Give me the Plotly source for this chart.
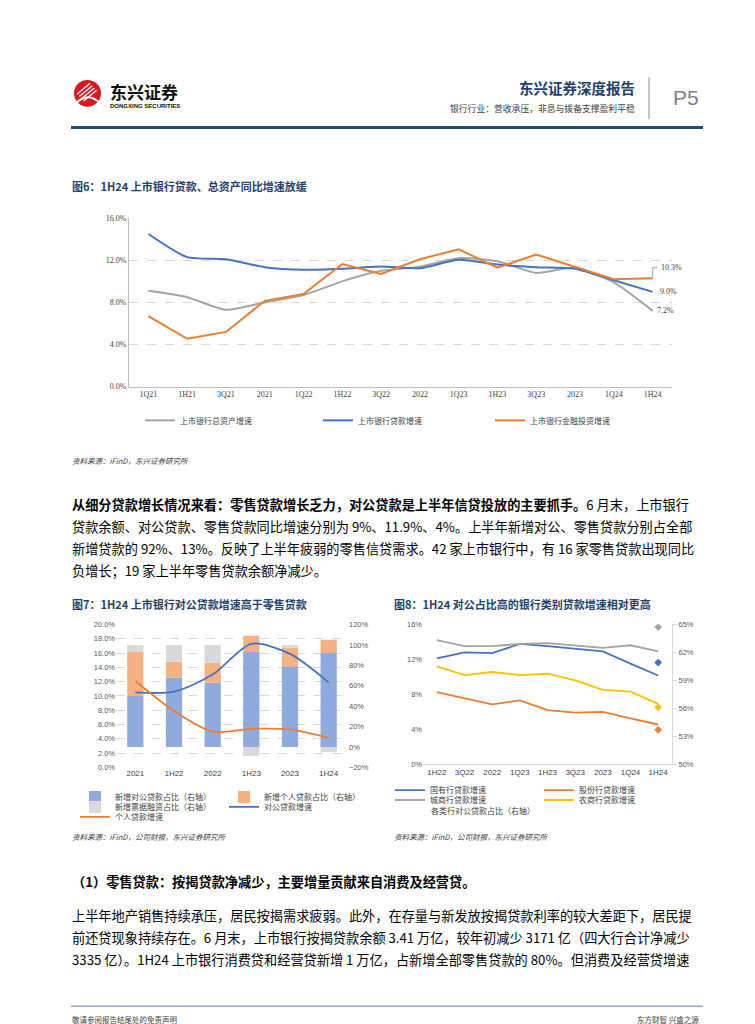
import plotly.graph_objects as go

W, H = 755, 1024
CJK = "Noto Sans CJK SC"


def px(x):
    return x / W


def py(y):
    return 1 - y / H


# ---------------- data ----------------
# Fig 6
c1_cats = ["1Q21", "1H21", "3Q21", "2021", "1Q22", "1H22", "3Q22", "2022",
           "1Q23", "1H23", "3Q23", "2023", "1Q24", "1H24"]
c1_assets = [9.1, 8.5, 7.3, 8.0, 8.7, 10.0, 11.0, 11.4, 12.2, 11.9, 10.8, 11.3, 9.9, 7.2]
c1_loans = [14.5, 12.3, 12.1, 11.35, 11.1, 11.2, 11.4, 11.25, 12.05, 11.6, 11.35, 11.2, 10.1, 9.0]
c1_invest = [6.7, 4.55, 5.2, 8.15, 8.8, 11.65, 10.7, 12.1, 13.05, 11.3, 12.55, 11.35, 10.2, 10.3]
c1_names = ["上市银行总资产增速", "上市银行贷款增速", "上市银行金融投资增速"]
c1_end_labels = ["7.2%", "9.0%", "10.3%"]

# Fig 7
c2_cats = ["2021", "1H22", "2022", "1H23", "2023", "1H24"]
c2_corp_share = [50, 68, 63, 93, 79, 92]
c2_retail_share = [43, 15.5, 19.5, 16, 18.5, 13]
c2_bill_share = [7, 16.5, 17.5, -9, 2.5, -5]
c2_corp_growth = [10.5, 10.6, 13.0, 17.3, 15.9, 11.9]
c2_retail_growth = [12.1, 7.9, 5.0, 5.4, 5.3, 4.1]
c2_names = ["新增对公贷款占比（右轴）", "新增个人贷款占比（右轴）", "新增票据融资占比（右轴）",
            "对公贷款增速", "个人贷款增速"]

# Fig 8
c3_cats = ["1H22", "3Q22", "2022", "1Q23", "1H23", "3Q23", "2023", "1Q24", "1H24"]
c3_soe = [12.1, 12.8, 12.7, 13.75, 13.5, 13.2, 12.9, 11.5, 10.15]
c3_jsb = [8.25, 7.55, 6.85, 7.3, 6.2, 5.9, 6.0, 5.25, 4.55]
c3_city = [14.2, 13.5, 13.5, 13.75, 13.85, 13.6, 13.3, 13.6, 12.9]
c3_rural = [11.2, 10.2, 10.55, 10.2, 10.35, 9.6, 8.5, 8.3, 6.9]
c3_corp_ratio_1h24 = [60.9, 53.7, 64.7, 56.1]  # 国有, 股份, 城商, 农商
c3_names = ["国有行贷款增速", "股份行贷款增速", "城商行贷款增速", "农商行贷款增速"]

BLUE, ORANGE, GRAY, YELLOW = "#4472C4", "#ED7D31", "#A5A5A5", "#FFC000"
NAVY = "#1F3F6E"

fig = go.Figure()


def leg_cfg(text_x, y):
    return dict(x=px(text_x - 40), y=py(y), xanchor="left", yanchor="middle",
                orientation="h", bgcolor="rgba(0,0,0,0)", borderwidth=0,
                itemwidth=30, font=dict(family=CJK, size=8, color="#404040"))


legends = {}

# ---------------- Fig 6 traces ----------------
c1_series = [(c1_assets, GRAY, "spline"), (c1_loans, BLUE, "spline"), (c1_invest, ORANGE, "linear")]
c1_leg_pos = [(172, 412), (350, 412), (522, 412)]
for i, (vals, col, shp) in enumerate(c1_series):
    lname = "legend" if i == 0 else f"legend{i + 1}"
    legends[lname] = leg_cfg(*c1_leg_pos[i])
    fig.add_trace(go.Scatter(x=c1_cats, y=vals, mode="lines", name=c1_names[i],
                             line=dict(color=col, width=2, shape=shp, smoothing=0.6),
                             xaxis="x", yaxis="y", legend=lname))

# ---------------- Fig 7 traces ----------------
c2_bar_cols = ["#8FAADC", "#F4B183", "#D9D9D9"]
c2_bar_vals = [c2_corp_share, c2_retail_share, c2_bill_share]
c2_leg_pos = [(107, 792), (256, 792), (107, 802), (256, 802), (107, 812)]
for i in range(3):
    lname = f"legend{4 + i}"
    legends[lname] = leg_cfg(*c2_leg_pos[i])
    fig.add_trace(go.Bar(x=c2_cats, y=c2_bar_vals[i], name=c2_names[i],
                         marker=dict(color=c2_bar_cols[i], line=dict(width=0)),
                         xaxis="x2", yaxis="y2", legend=lname))
for j, (vals, col) in enumerate([(c2_corp_growth, BLUE), (c2_retail_growth, ORANGE)]):
    lname = f"legend{7 + j}"
    legends[lname] = leg_cfg(*c2_leg_pos[3 + j])
    fig.add_trace(go.Scatter(x=c2_cats, y=vals, mode="lines", name=c2_names[3 + j],
                             line=dict(color=col, width=1.8, shape="spline", smoothing=0.8),
                             xaxis="x2", yaxis="y3", legend=lname))

# ---------------- Fig 8 traces ----------------
c3_vals = [c3_soe, c3_jsb, c3_city, c3_rural]
c3_cols = [BLUE, ORANGE, GRAY, YELLOW]
c3_leg_pos = [(422, 785), (571, 785), (422, 795), (571, 795)]
for i in range(4):
    lname = f"legend{9 + i}"
    legends[lname] = leg_cfg(*c3_leg_pos[i])
    fig.add_trace(go.Scatter(x=c3_cats, y=c3_vals[i], mode="lines", name=c3_names[i],
                             line=dict(color=c3_cols[i], width=1.8),
                             xaxis="x3", yaxis="y4", legend=lname))
fig.add_trace(go.Scatter(x=[c3_cats[-1]] * 4, y=c3_corp_ratio_1h24, mode="markers",
                         marker=dict(color=c3_cols, symbol="diamond", size=6),
                         showlegend=False, xaxis="x3", yaxis="y5"))

# ---------------- annotations ----------------
ann = []


def txt(x, y, s, size=8, color="#000000", bold=False, xanchor="left", family=CJK, italic=False):
    if bold:
        s = f"<b>{s}</b>"
    f = dict(family=family, size=size, color=color)
    if italic:
        f["style"] = "italic"
    ann.append(dict(xref="paper", yref="paper", x=px(x), y=py(y), text=s, showarrow=False,
                    xanchor=xanchor, yanchor="middle", font=f, align="left", borderpad=0))


# header
txt(101, 80, "东兴证券", size=17, bold=True, color="#111111")
txt(101, 95, "DONGXING SECURITIES", size=6, bold=True, color="#111111", family="Liberation Sans")
txt(628, 76, "东兴证券深度报告", size=14.5, bold=True, color=NAVY, xanchor="right")
txt(628, 97, "银行行业：营收承压，非息与拨备支撑盈利平稳", size=8.8, color="#404040", xanchor="right")
txt(664, 86, "P5", size=21, color="#7F7F7F", family="Liberation Sans")

# fig 6
txt(63, 176, "图6：1H24 上市银行贷款、总资产同比增速放缓", size=11, bold=True, color=NAVY)
for lab, val, xs, ys in zip(c1_end_labels, [c1_assets[-1], c1_loans[-1], c1_invest[-1]],
                            [2, 5, 6], [0, 0, 10.5]):
    ann.append(dict(xref="x", yref="y", x=c1_cats[-1], y=val, text=lab, showarrow=False,
                    xanchor="left", yanchor="middle", xshift=xs, yshift=ys,
                    font=dict(family="Liberation Serif", size=8, color="#404040")))
txt(63, 452, "资料来源：iFinD，东兴证券研究所", size=7.5, color="#404040", italic=True)

# paragraph 1
p1 = [
    "<b>从细分贷款增长情况来看：零售贷款增长乏力，对公贷款是上半年信贷投放的主要抓手。</b>6 月末，上市银行",
    "贷款余额、对公贷款、零售贷款同比增速分别为 9%、11.9%、4%。上半年新增对公、零售贷款分别占全部",
    "新增贷款的 92%、13%。反映了上半年疲弱的零售信贷需求。42 家上市银行中，有 16 家零售贷款出现同比",
    "负增长；19 家上半年零售贷款余额净减少。",
]
for k, line in enumerate(p1):
    txt(63, 497 + 22 * k, line, size=13.2)

# fig 7 / fig 8 titles
txt(63, 597, "图7：1H24 上市银行对公贷款增速高于零售贷款", size=11, bold=True, color=NAVY)
txt(385, 597, "图8：1H24 对公占比高的银行类别贷款增速相对更高", size=11, bold=True, color=NAVY)
txt(422, 806, "各类行对公贷款占比（右轴）", size=8, color="#404040")
txt(63, 832, "资料来源：iFinD，公司财报，东兴证券研究所", size=7.5, color="#404040", italic=True)
txt(385, 832, "资料来源：iFinD，公司财报，东兴证券研究所", size=7.5, color="#404040", italic=True)

# section 1
txt(63, 877, "（1）零售贷款：按揭贷款净减少，主要增量贡献来自消费及经营贷。", size=13.2, bold=True)
p2 = [
    "上半年地产销售持续承压，居民按揭需求疲弱。此外，在存量与新发放按揭贷款利率的较大差距下，居民提",
    "前还贷现象持续存在。6 月末，上市银行按揭贷款余额 3.41 万亿，较年初减少 3171 亿（四大行合计净减少",
    "3335 亿）。1H24 上市银行消费贷和经营贷新增 1 万亿，占新增全部零售贷款的 80%。但消费及经营贷增速",
]
for k, line in enumerate(p2):
    txt(63, 912 + 22 * k, line, size=13.2)

# footer
txt(63, 1016, "敬请参阅报告结尾处的免责声明", size=7.5, color="#404040")
txt(692, 1016, "东方财智 兴盛之源", size=7.5, color="#404040", xanchor="right")

# ---------------- shapes ----------------
shapes = []


def pline(x0, y0, x1, y1, color, width):
    shapes.append(dict(type="line", xref="paper", yref="paper", x0=px(x0), y0=py(y0),
                       x1=px(x1), y1=py(y1), line=dict(color=color, width=width)))


# logo
shapes.append(dict(type="circle", xref="paper", yref="paper", x0=px(66), x1=px(93),
                   y0=py(95.5), y1=py(68.5), fillcolor="#D7191F", line=dict(width=0)))
for d in range(4):
    pline(69 + d * 2.2, 83 + d * 2.3, 82 + d * 2.2, 72 + d * 2.3, "white", 1.3)
shapes.append(dict(type="path", xref="paper", yref="paper",
                   path=f"M {px(68)},{py(92)} Q {px(80)},{py(80)} {px(92)},{py(92)}",
                   line=dict(color="white", width=2)))
pline(641, 66, 641, 108, "#8C8C8C", 1)
pline(63, 116.5, 695, 116.5, "#1F4E79", 3)
pline(63, 1003, 695, 1003, "#8EA9C8", 1.5)

# leader line for 10.3% label
shapes.append(dict(type="line", xref="x", yref="y", x0=13, x1=13, y0=c1_invest[-1], y1=11.3,
                   line=dict(color="#A6A6A6", width=1)))
shapes.append(dict(type="line", xref="x", yref="y", x0=13, x1=13.12, y0=11.3, y1=11.3,
                   line=dict(color="#A6A6A6", width=1)))

tickfont_s = dict(family="Liberation Serif", size=8, color="#404040")
tickfont = dict(family="Liberation Sans", size=7.5, color="#595959")

layout = dict(
    width=W, height=H, margin=dict(l=0, r=0, t=0, b=0),
    paper_bgcolor="white", plot_bgcolor="white",
    barmode="relative", bargap=0.58,
    annotations=ann, shapes=shapes,
    # fig 6
    xaxis=dict(domain=[px(121), px(664)], anchor="y", type="category",
               range=[-0.5, len(c1_cats) - 0.5], showline=True, linecolor="#BFBFBF",
               linewidth=1, showgrid=False, ticks="", tickfont=tickfont_s),
    yaxis=dict(domain=[py(378), py(208)], anchor="x", range=[0, 16], dtick=4,
               tickformat=".1f", ticksuffix="%", showgrid=True, gridcolor="#D9D9D9",
               griddash="dash", zeroline=False, showline=True, linecolor="#BFBFBF",
               linewidth=1, ticks="", tickfont=tickfont_s),
    # fig 7
    xaxis2=dict(domain=[px(108), px(340)], anchor="y2", type="category",
                range=[-0.5, len(c2_cats) - 0.5], showline=False, showgrid=False,
                ticks="", tickfont=dict(family="Liberation Sans", size=8, color="#404040")),
    yaxis2=dict(domain=[py(762), py(618)], anchor="x2", side="right", range=[-20, 120],
                dtick=20, tick0=0, ticksuffix="%", showgrid=False, zeroline=False, showline=False,
                tickfont=tickfont),
    yaxis3=dict(overlaying="y2", anchor="x2", side="left", range=[0, 20], dtick=2, tick0=0,
                tickformat=".1f", ticksuffix="%", showgrid=True, gridcolor="#D9D9D9",
                griddash="dash", zeroline=False, showline=False, tickfont=tickfont),
    # fig 8
    xaxis3=dict(domain=[px(415), px(664)], anchor="y4", type="category",
                range=[-0.5, len(c3_cats) - 0.5], showline=True, linecolor="#D9D9D9",
                showgrid=False, ticks="", tickfont=dict(family="Liberation Sans", size=8, color="#404040")),
    yaxis4=dict(domain=[py(759), py(617.7)], anchor="x3", side="left", range=[0, 16],
                dtick=4, tick0=0, ticksuffix="%", showgrid=False, zeroline=False, showline=False,
                tickfont=tickfont),
    yaxis5=dict(overlaying="y4", anchor="x3", side="right", range=[50, 65], dtick=3, tick0=50,
                ticksuffix="%", showgrid=False, zeroline=False, showline=True,
                linecolor="#D9D9D9", ticks="outside", ticklen=4, tickcolor="#D9D9D9",
                tickfont=tickfont),
)
layout.update(legends)
fig.update_layout(**layout)
fig.write_html("out.html")
